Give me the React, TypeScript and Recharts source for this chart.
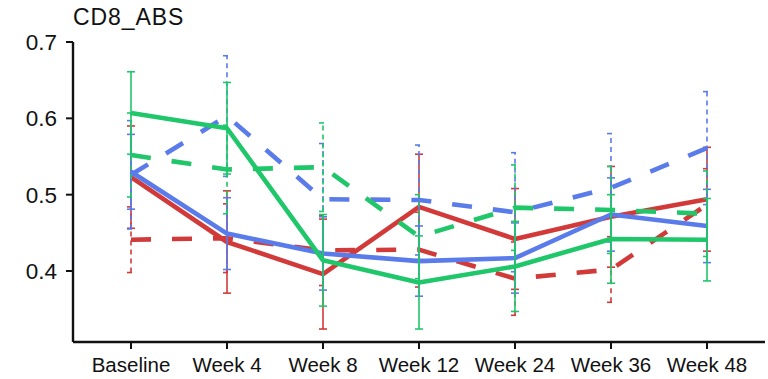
import React from 'react';
import { LineChart, Line, XAxis, YAxis, ErrorBar } from 'recharts';

const categories = ['Baseline', 'Week 4', 'Week 8', 'Week 12', 'Week 24', 'Week 36', 'Week 48'];

const redSolid = [0.523, 0.438, 0.396, 0.484, 0.442, 0.471, 0.494];
const redSolidErr = [0.067, 0.067, 0.072, 0.069, 0.066, 0.066, 0.068];
const redDashed = [0.441, 0.443, 0.427, 0.428, 0.39, 0.402, 0.487];
const redDashedErr = [0.043, 0.045, 0.046, 0.049, 0.048, 0.043, 0.047];
const blueSolid = [0.53, 0.449, 0.423, 0.413, 0.417, 0.474, 0.459];
const blueSolidErr = [0.049, 0.047, 0.048, 0.046, 0.046, 0.048, 0.048];
const blueDashed = [0.526, 0.603, 0.494, 0.493, 0.477, 0.509, 0.561];
const blueDashedErr = [0.071, 0.079, 0.073, 0.072, 0.078, 0.071, 0.074];
const greenSolid = [0.607, 0.587, 0.414, 0.385, 0.406, 0.442, 0.441];
const greenSolidErr = [0.054, 0.06, 0.06, 0.061, 0.059, 0.058, 0.054];
const greenDashed = [0.552, 0.533, 0.536, 0.445, 0.483, 0.48, 0.475];
const greenDashedErr = [0.055, 0.058, 0.058, 0.055, 0.056, 0.057, 0.056];

const yTicks = [0.4, 0.5, 0.6, 0.7];
const title = 'CD8_ABS';

const RED = '#D23A3A';
const BLUE = '#5A7BEA';
const GREEN = '#20C76A';

const data = categories.map((c, i) => ({
  name: c,
  redSolid: redSolid[i],
  redSolidErr: redSolidErr[i],
  redDashed: redDashed[i],
  redDashedErr: redDashedErr[i],
  blueSolid: blueSolid[i],
  blueSolidErr: blueSolidErr[i],
  blueDashed: blueDashed[i],
  blueDashedErr: blueDashedErr[i],
  greenSolid: greenSolid[i],
  greenSolidErr: greenSolidErr[i],
  greenDashed: greenDashed[i],
  greenDashedErr: greenDashedErr[i],
}));

const series = [
  { key: 'redDashed', color: RED, dashed: true },
  { key: 'redSolid', color: RED, dashed: false },
  { key: 'blueDashed', color: BLUE, dashed: true },
  { key: 'blueSolid', color: BLUE, dashed: false },
  { key: 'greenDashed', color: GREEN, dashed: true },
  { key: 'greenSolid', color: GREEN, dashed: false },
];

const font = '"Liberation Sans", Arial, Helvetica, sans-serif';

export default function App() {
  return (
    <div style={{ position: 'absolute', left: 0, top: 0, width: 768, height: 379, background: '#fff', fontFamily: font }}>
      <div
        style={{
          position: 'absolute',
          left: 73,
          top: 6,
          fontSize: 23,
          lineHeight: '23px',
          color: '#111',
          fontFamily: font,
          letterSpacing: 0.9,
        }}
      >
        {title}
      </div>
      <LineChart
        width={768}
        height={379}
        data={data}
        margin={{ top: 42, right: 3, left: 0, bottom: 0 }}
      >
        <XAxis
          dataKey="name"
          height={37}
          padding={{ left: 58, right: 58 }}
          axisLine={{ stroke: '#111', strokeWidth: 2.4 }}
          tickLine={{ stroke: '#111', strokeWidth: 2 }}
          tickSize={7}
          tickMargin={8}
          interval={0}
          tick={{ fill: '#111', fontSize: 20.5, fontFamily: font }}
        />
        <YAxis
          width={73}
          domain={[0.307, 0.7]}
          ticks={yTicks}
          allowDataOverflow
          axisLine={{ stroke: '#111', strokeWidth: 2.4 }}
          tickLine={{ stroke: '#111', strokeWidth: 2 }}
          tickSize={7}
          tickMargin={9}
          tickFormatter={(v: number) => v.toFixed(1)}
          tick={{ fill: '#111', fontSize: 22.5, fontFamily: font }}
        />
        {series.map((s) => (
          <Line
            key={s.key}
            type="linear"
            dataKey={s.key}
            stroke={s.color}
            strokeWidth={4.6}
            strokeDasharray={s.dashed ? '20 21' : undefined}
            strokeLinejoin="round"
            dot={false}
            activeDot={false}
            isAnimationActive={false}
          >
            <ErrorBar
              dataKey={`${s.key}Err`}
              direction="y"
              width={4}
              stroke={s.color}
              strokeWidth={1.6}
              strokeDasharray={s.dashed ? '5 4' : undefined}
              isAnimationActive={false}
            />
          </Line>
        ))}
      </LineChart>
    </div>
  );
}
